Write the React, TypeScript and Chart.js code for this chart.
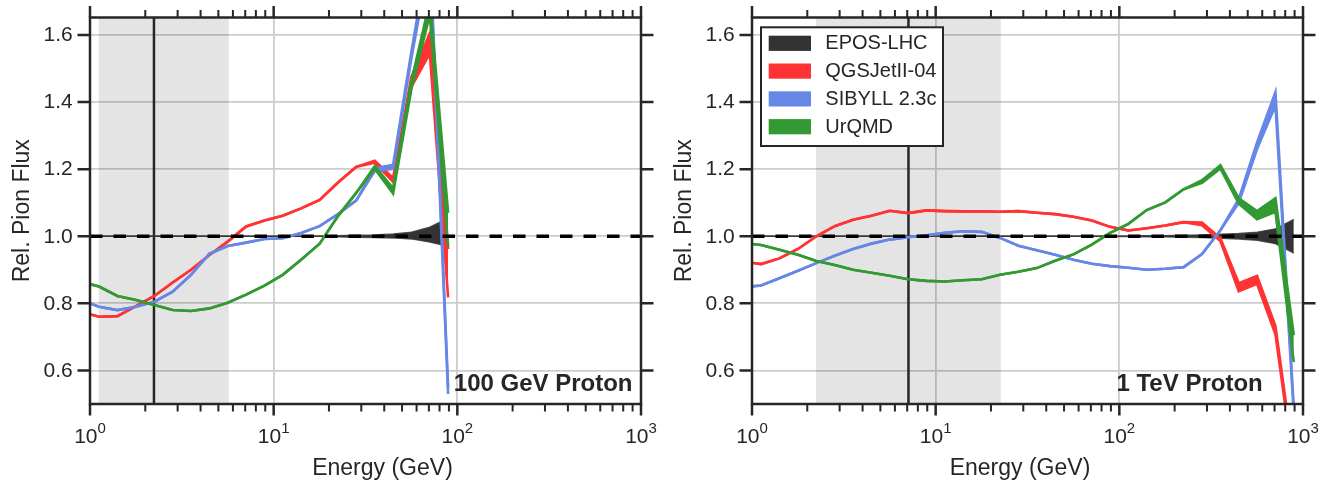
import React, { useEffect, useRef } from 'react';
import { Chart, registerables } from 'chart.js';

Chart.register(...registerables);

// ---------- data ----------
const ENERGY_100GEV = [0.891, 1.12, 1.41, 1.78, 2.24, 2.82, 3.55, 4.47, 5.62, 7.08, 8.91, 11.2, 14.1, 17.8, 22.4, 28.2, 35.5, 44.7, 56.2, 70.8, 89.1];
const ENERGY_1TEV = [0.891, 1.12, 1.41, 1.78, 2.24, 2.82, 3.55, 4.47, 5.62, 7.08, 8.91, 11.2, 14.1, 17.8, 22.4, 28.2, 35.5, 44.7, 56.2, 70.8, 89.1, 112, 141, 178, 224, 282, 355, 447, 562, 708, 891];

// 100 GeV proton
const EPOS_100 = [1, 1, 1, 1, 1, 1, 1, 1, 1, 1, 1, 1, 1, 1, 1, 1, 1, 1.001, 1.002, 1.005, 1.012];
const EPOS_100_ERR = [0, 0, 0, 0, 0, 0, 0, 0, 0, 0, 0, 0, 0, 0, 0.002, 0.003, 0.004, 0.006, 0.01, 0.022, 0.042];
const QGS_100 = [0.775, 0.76, 0.762, 0.792, 0.822, 0.862, 0.9, 0.944, 0.984, 1.029, 1.047, 1.061, 1.083, 1.108, 1.16, 1.207, 1.222, 1.168, 1.46, 1.575, 0.89];
const QGS_100_ERR = [0, 0, 0, 0, 0, 0, 0, 0, 0, 0, 0, 0, 0, 0, 0, 0, 0.003, 0.006, 0.015, 0.03, 0.072];
const SIB_100 = [0.81, 0.79, 0.78, 0.79, 0.805, 0.835, 0.885, 0.948, 0.971, 0.981, 0.992, 0.994, 1.01, 1.03, 1.066, 1.107, 1.198, 1.207, 1.54, 1.85, 0.54];
const SIB_100_ERR = [0, 0, 0, 0, 0, 0, 0, 0, 0, 0, 0, 0, 0, 0, 0, 0, 0.004, 0.006, 0.01, 0.02, 0.01];
const URQMD_100 = [0.865, 0.85, 0.822, 0.81, 0.795, 0.78, 0.777, 0.785, 0.802, 0.826, 0.853, 0.885, 0.93, 0.978, 1.06, 1.13, 1.205, 1.135, 1.45, 1.68, 1.02];
const URQMD_100_ERR = [0, 0, 0, 0, 0, 0, 0, 0, 0, 0, 0, 0, 0, 0, 0, 0, 0.004, 0.008, 0.012, 0.02, 0.05];

// 1 TeV proton
const EPOS_1T = [1, 1, 1, 1, 1, 1, 1, 1, 1, 1, 1, 1, 1, 1, 1, 1, 1, 1, 1, 1, 1, 1, 1, 1, 1, 1, 1, 1, 1, 1, 1];
const EPOS_1T_ERR = [0, 0, 0, 0, 0, 0, 0, 0, 0, 0, 0, 0, 0, 0, 0, 0, 0, 0, 0, 0, 0.001, 0.001, 0.002, 0.002, 0.003, 0.004, 0.006, 0.008, 0.012, 0.022, 0.05];
const QGS_1T = [0.925, 0.917, 0.934, 0.962, 1.0, 1.03, 1.049, 1.061, 1.076, 1.069, 1.077, 1.075, 1.074, 1.074, 1.073, 1.075, 1.07, 1.066, 1.058, 1.047, 1.028, 1.017, 1.024, 1.032, 1.042, 1.037, 0.99, 0.848, 0.87, 0.72, 0.32];
const QGS_1T_ERR = [0, 0, 0, 0, 0, 0, 0, 0, 0, 0, 0, 0, 0, 0, 0, 0, 0, 0, 0, 0, 0, 0, 0, 0, 0, 0.004, 0.004, 0.012, 0.012, 0.012, 0.01];
const SIB_1T = [0.848, 0.853, 0.875, 0.897, 0.92, 0.942, 0.962, 0.978, 0.99, 0.997, 1.003, 1.01, 1.015, 1.013, 0.995, 0.972, 0.958, 0.945, 0.93, 0.918, 0.911, 0.906, 0.9, 0.903, 0.908, 0.947, 1.018, 1.105, 1.27, 1.41, 0.48];
const SIB_1T_ERR = [0, 0, 0, 0, 0, 0, 0, 0, 0, 0, 0, 0, 0, 0, 0, 0, 0, 0, 0, 0, 0, 0, 0, 0, 0, 0, 0, 0.006, 0.01, 0.02, 0.01];
const URQMD_1T = [0.98, 0.974, 0.96, 0.945, 0.926, 0.914, 0.9, 0.891, 0.882, 0.872, 0.867, 0.865, 0.869, 0.872, 0.885, 0.894, 0.905, 0.927, 0.946, 0.975, 1.01, 1.037, 1.078, 1.101, 1.14, 1.163, 1.207, 1.105, 1.063, 1.093, 0.665];
const URQMD_1T_ERR = [0, 0, 0, 0, 0, 0, 0, 0, 0, 0, 0, 0, 0, 0, 0, 0, 0, 0, 0, 0, 0, 0, 0, 0, 0, 0.004, 0.005, 0.008, 0.012, 0.02, 0.04];

const MODEL_NAMES = ['EPOS-LHC', 'QGSJetII-04', 'SIBYLL 2.3c', 'UrQMD'];
const MODEL_COLORS = ['#333333', '#ff3333', '#6787e7', '#339933'];

const X_MAJOR = [1, 10, 100, 1000];
const X_EXPONENTS = ['0', '1', '2', '3'];
const Y_TICKS = [0.6, 0.8, 1.0, 1.2, 1.4, 1.6];
const Y_TICK_LABELS = ['0.6', '0.8', '1.0', '1.2', '1.4', '1.6'];

const X_TITLE = 'Energy (GeV)';
const Y_TITLE = 'Rel. Pion Flux';

// ---------- styling ----------
const FONT = '"Liberation Sans", Arial, Helvetica, sans-serif';
const INK = '#262626';

type Panel = {
  energies: number[];
  values: number[][];
  errs: number[][];
  band: [number, number];
  marker: number;
  tag: string;
  tagInset: number;
  xTitleShift: number;
  legend: boolean;
  padLeft: number;
  padRight: number;
};

const PANELS: Panel[] = [
  {
    energies: ENERGY_100GEV,
    values: [EPOS_100, QGS_100, SIB_100, URQMD_100],
    errs: [EPOS_100_ERR, QGS_100_ERR, SIB_100_ERR, URQMD_100_ERR],
    band: [1.115, 5.69],
    marker: 2.23,
    tag: '100 GeV Proton',
    tagInset: 8.5,
    xTitleShift: 17,
    legend: false,
    padLeft: 90,
    padRight: 28,
  },
  {
    energies: ENERGY_1TEV,
    values: [EPOS_1T, QGS_1T, SIB_1T, URQMD_1T],
    errs: [EPOS_1T_ERR, QGS_1T_ERR, SIB_1T_ERR, URQMD_1T_ERR],
    band: [2.23, 22.6],
    marker: 7.11,
    tag: '1 TeV Proton',
    tagInset: 40.3,
    xTitleShift: -7.5,
    legend: true,
    padLeft: 83,
    padRight: 35,
  },
];

function buildDatasets(p: Panel) {
  const ds: any[] = [];
  p.values.forEach((vals, i) => {
    const err = p.errs[i];
    const color = MODEL_COLORS[i];
    const bw = i === 0 ? 1.4 : 2.6;
    const edge = i === 0 ? 'rgba(51,51,51,0.8)' : color;
    ds.push({
      label: MODEL_NAMES[i] + ' upper',
      data: p.energies.map((e, k) => ({ x: e, y: vals[k] + err[k] })),
      borderColor: edge,
      borderWidth: bw,
      pointRadius: 0,
      fill: false,
      tension: 0,
      clip: 0,
      order: 2 * (4 - i),
    });
    ds.push({
      label: MODEL_NAMES[i],
      data: p.energies.map((e, k) => ({ x: e, y: vals[k] - err[k] })),
      borderColor: edge,
      backgroundColor: color,
      borderWidth: bw,
      pointRadius: 0,
      fill: '-1',
      tension: 0,
      clip: 0,
      order: 2 * (4 - i) - 1,
    });
  });
  return ds;
}

function makePlugin(p: Panel) {
  return {
    id: 'panelDecor',
    beforeDatasetsDraw(chart: any) {
      const { ctx, chartArea: a, scales } = chart;
      const x = scales.x;
      ctx.save();
      ctx.beginPath();
      ctx.rect(a.left, a.top, a.right - a.left, a.bottom - a.top);
      ctx.clip();
      const x0 = x.getPixelForValue(p.band[0]);
      const x1 = x.getPixelForValue(p.band[1]);
      ctx.fillStyle = 'rgba(0,0,0,0.105)';
      ctx.fillRect(x0, a.top, x1 - x0, a.bottom - a.top);
      const xm = x.getPixelForValue(p.marker);
      ctx.strokeStyle = INK;
      ctx.lineWidth = 2.5;
      ctx.beginPath();
      ctx.moveTo(xm, a.top);
      ctx.lineTo(xm, a.bottom);
      ctx.stroke();
      ctx.restore();
    },
    afterDatasetsDraw(chart: any) {
      const { ctx, chartArea: a, scales } = chart;
      const y1 = scales.y.getPixelForValue(1.0);
      ctx.save();
      ctx.strokeStyle = '#000000';
      ctx.lineWidth = 3.5;
      ctx.setLineDash([12.5, 11]);
      ctx.beginPath();
      ctx.moveTo(a.left, y1);
      ctx.lineTo(a.right, y1);
      ctx.stroke();
      ctx.restore();
    },
    afterDraw(chart: any) {
      const { ctx, chartArea: a, scales } = chart;
      const x = scales.x;
      const y = scales.y;
      ctx.save();
      // spines
      ctx.strokeStyle = INK;
      ctx.lineWidth = 2.5;
      ctx.strokeRect(a.left, a.top, a.right - a.left, a.bottom - a.top);
      // x ticks (major + minor, top and bottom)
      const tick = (px: number, len: number, w: number) => {
        ctx.lineWidth = w;
        ctx.beginPath();
        ctx.moveTo(px, a.bottom);
        ctx.lineTo(px, a.bottom + len);
        ctx.moveTo(px, a.top);
        ctx.lineTo(px, a.top - len);
        ctx.stroke();
      };
      X_MAJOR.forEach((v) => tick(x.getPixelForValue(v), 11.5, 2.5));
      for (let i = 0; i < X_MAJOR.length - 1; i++) {
        for (let d = 2; d <= 9; d++) tick(x.getPixelForValue(X_MAJOR[i] * d), 7.5, 2);
      }
      // y ticks (left and right)
      Y_TICKS.forEach((v) => {
        const py = y.getPixelForValue(v);
        ctx.lineWidth = 2.5;
        ctx.beginPath();
        ctx.moveTo(a.left, py);
        ctx.lineTo(a.left - 12.5, py);
        ctx.moveTo(a.right, py);
        ctx.lineTo(a.right + 12.5, py);
        ctx.stroke();
      });
      ctx.fillStyle = INK;
      // y tick labels
      ctx.font = `21px ${FONT}`;
      ctx.textAlign = 'right';
      ctx.textBaseline = 'middle';
      Y_TICKS.forEach((v, i) => {
        ctx.fillText(Y_TICK_LABELS[i], a.left - 17.3, y.getPixelForValue(v) + 0.5);
      });
      // x tick labels with superscript exponent
      ctx.textAlign = 'left';
      ctx.textBaseline = 'alphabetic';
      X_MAJOR.forEach((v, i) => {
        const px = x.getPixelForValue(v);
        ctx.font = `21px ${FONT}`;
        const w1 = ctx.measureText('10').width;
        ctx.font = `15px ${FONT}`;
        const w2 = ctx.measureText(X_EXPONENTS[i]).width;
        const sx = px - (w1 + w2) / 2;
        ctx.font = `21px ${FONT}`;
        ctx.fillText('10', sx, a.bottom + 39.3);
        ctx.font = `15px ${FONT}`;
        ctx.fillText(X_EXPONENTS[i], sx + w1, a.bottom + 29.3);
      });
      // axis titles
      ctx.font = `23px ${FONT}`;
      ctx.textAlign = 'center';
      ctx.fillText(X_TITLE, (a.left + a.right) / 2 + p.xTitleShift, a.bottom + 71);
      ctx.save();
      ctx.translate(a.left - 61, (a.top + a.bottom) / 2);
      ctx.rotate(-Math.PI / 2);
      ctx.fillText(Y_TITLE, 0, 0);
      ctx.restore();
      // panel tag
      ctx.font = `bold 24px ${FONT}`;
      ctx.textAlign = 'right';
      ctx.fillText(p.tag, a.right - p.tagInset, a.bottom - 13.3);
      // legend
      if (p.legend) {
        const bx = a.left + 9;
        const by = a.top + 9.8;
        const bw = 182;
        const bh = 118.7;
        ctx.fillStyle = '#ffffff';
        ctx.fillRect(bx, by, bw, bh);
        ctx.strokeStyle = INK;
        ctx.lineWidth = 2;
        ctx.strokeRect(bx, by, bw, bh);
        ctx.font = `20px ${FONT}`;
        ctx.textAlign = 'left';
        ctx.textBaseline = 'middle';
        MODEL_NAMES.forEach((name, i) => {
          const cy = a.top + 25.8 + 27.8 * i;
          ctx.fillStyle = MODEL_COLORS[i];
          ctx.fillRect(bx + 7.7, cy - 7.6, 42.3, 15.2);
          ctx.fillStyle = INK;
          ctx.fillText(name, bx + 64.3, cy + 0.5);
        });
      }
      ctx.restore();
    },
  };
}

function PanelChart({ panel }: { panel: Panel }) {
  const ref = useRef<HTMLCanvasElement | null>(null);
  useEffect(() => {
    if (!ref.current) return;
    const chart = new Chart(ref.current, {
      type: 'line',
      data: { datasets: buildDatasets(panel) },
      options: {
        responsive: false,
        animation: false,
        events: [],
        layout: { padding: { left: panel.padLeft, right: panel.padRight, top: 17.5, bottom: 80 } },
        plugins: {
          legend: { display: false },
          tooltip: { enabled: false },
          title: { display: false },
        },
        scales: {
          x: {
            type: 'logarithmic',
            min: 1,
            max: 1000,
            ticks: { display: false },
            grid: { color: '#cccccc', lineWidth: 1.8, drawTicks: false },
            border: { display: false },
            afterBuildTicks: (s: any) => {
              s.ticks = X_MAJOR.map((v) => ({ value: v }));
            },
          },
          y: {
            type: 'linear',
            min: 0.5,
            max: 1.652,
            ticks: { display: false },
            grid: { color: '#cccccc', lineWidth: 1.8, drawTicks: false },
            border: { display: false },
            afterBuildTicks: (s: any) => {
              s.ticks = Y_TICKS.map((v) => ({ value: v }));
            },
          },
        },
      } as any,
      plugins: [makePlugin(panel)],
    });
    return () => chart.destroy();
  }, [panel]);
  return <canvas ref={ref} width={669} height={484} style={{ display: 'block' }} />;
}

export default function App() {
  return (
    <div style={{ position: 'absolute', left: 0, top: 0, width: 1338, height: 484, display: 'flex', background: '#ffffff' }}>
      <PanelChart panel={PANELS[0]} />
      <PanelChart panel={PANELS[1]} />
    </div>
  );
}
